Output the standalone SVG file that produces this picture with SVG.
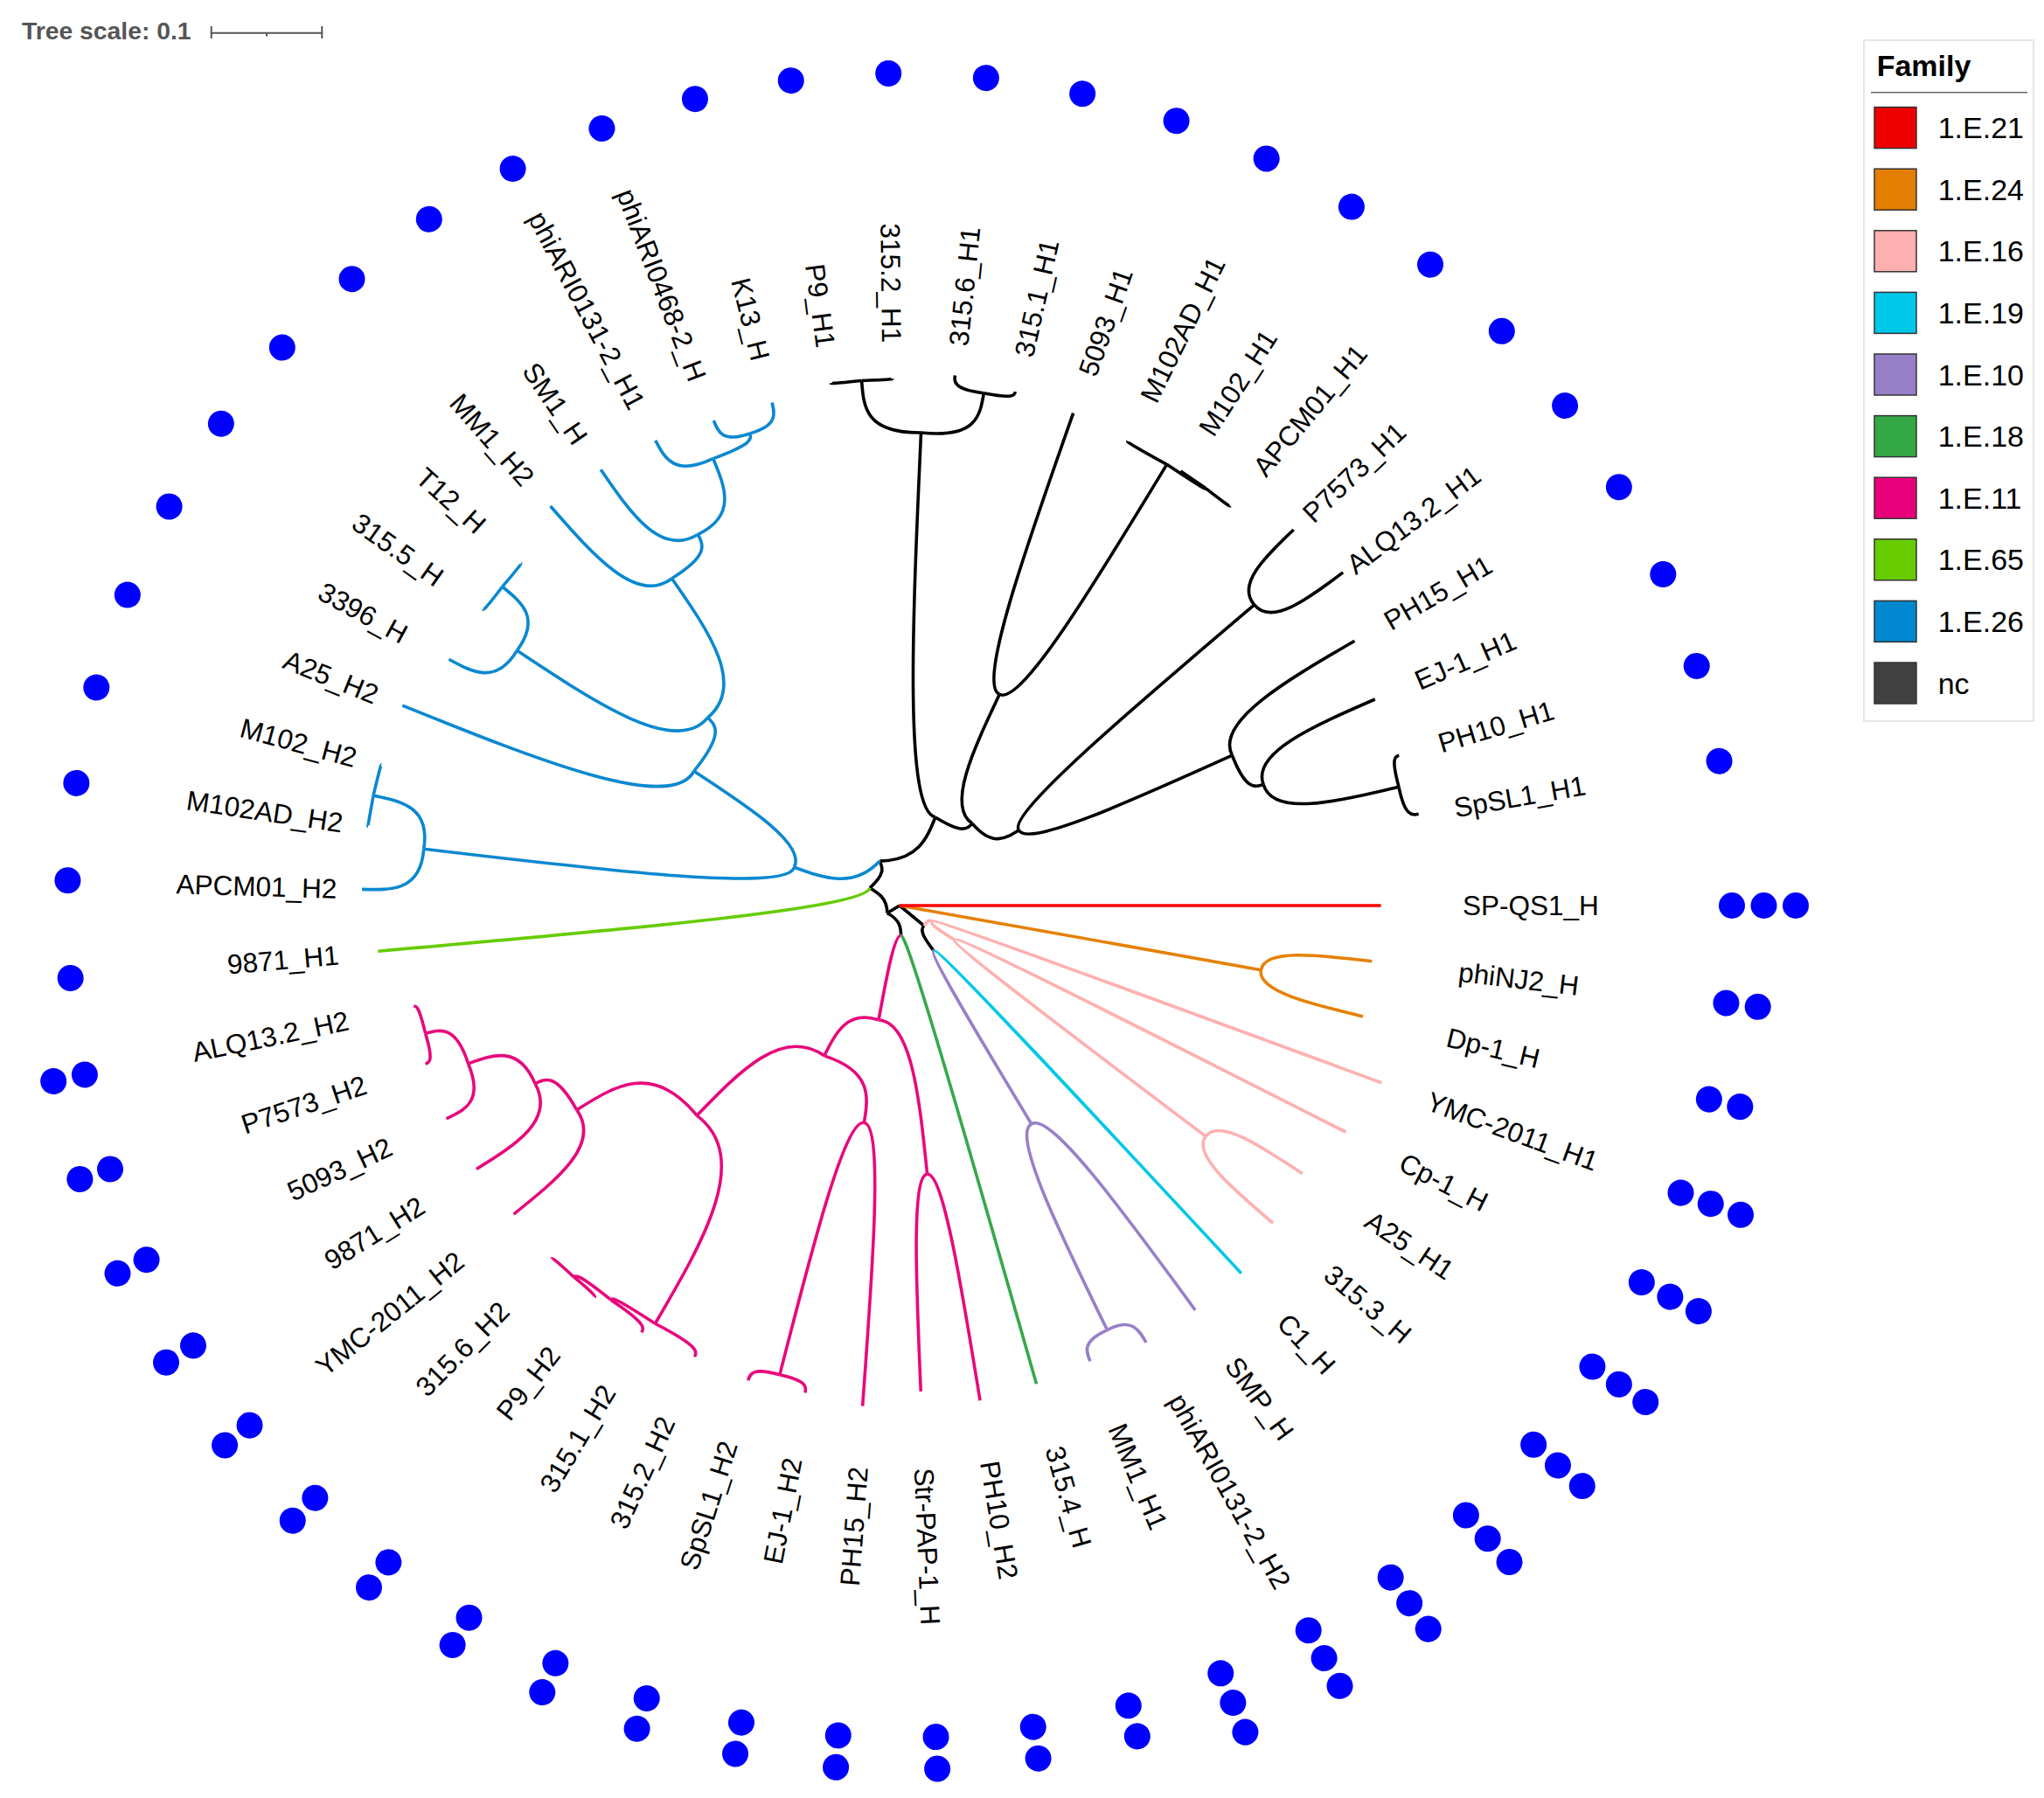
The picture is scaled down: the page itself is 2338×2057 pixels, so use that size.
<svg xmlns="http://www.w3.org/2000/svg" width="2338" height="2057" viewBox="0 0 2338 2057">
<style>
.e{fill:none;stroke-width:3.6;stroke-linejoin:round}
.k{stroke:#000}.b{stroke:#0a88d0}.l{stroke:#66cc00}.m{stroke:#e8087c}.g{stroke:#36a84a}.c{stroke:#00c8e6}.p{stroke:#9880c8}.pk{stroke:#ffb0b0}.o{stroke:#e68000}.r{stroke:#ff0000}
.t{font-family:"Liberation Sans",Arial,sans-serif;font-size:31.5px;fill:#000}
.d{fill:#0000ff}
.lg{font-family:"Liberation Sans",Arial,sans-serif;font-size:34px;fill:#000}
.sw{stroke:#333;stroke-width:1.5}
</style>
<rect width="2338" height="2057" fill="#fff"/>
<g id="tree-scale">
<text x="25" y="45" font-family="Liberation Sans, Arial, sans-serif" font-weight="bold" font-size="28.3" fill="#555">Tree scale: 0.1</text>
<g stroke="#555" stroke-width="2" fill="none">
<line x1="241.7" y1="37.7" x2="368.3" y2="37.7"/>
<line x1="241.7" y1="30" x2="241.7" y2="44"/>
<line x1="368.3" y1="30" x2="368.3" y2="44"/>
<line x1="305" y1="37.7" x2="305" y2="41.5"/>
</g>
</g>
<g id="legend">
<rect x="2132" y="46" width="194" height="779" fill="#fff" stroke="#e6e6e6" stroke-width="2"/>
<text x="2146.7" y="86.5" font-family="Liberation Sans, Arial, sans-serif" font-weight="bold" font-size="34">Family</text>
<line x1="2140" y1="105.8" x2="2319" y2="105.8" stroke="#666" stroke-width="1.5"/>
<rect class="sw" x="2144" y="122.6" width="48" height="47" fill="#ee0000"/><text class="lg" x="2216.7" y="158.1">1.E.21</text>
<rect class="sw" x="2144" y="193.2" width="48" height="47" fill="#e37e00"/><text class="lg" x="2216.7" y="228.7">1.E.24</text>
<rect class="sw" x="2144" y="263.8" width="48" height="47" fill="#ffb0b0"/><text class="lg" x="2216.7" y="299.3">1.E.16</text>
<rect class="sw" x="2144" y="334.4" width="48" height="47" fill="#00c8e8"/><text class="lg" x="2216.7" y="369.9">1.E.19</text>
<rect class="sw" x="2144" y="405" width="48" height="47" fill="#9880c8"/><text class="lg" x="2216.7" y="440.5">1.E.10</text>
<rect class="sw" x="2144" y="475.6" width="48" height="47" fill="#34a844"/><text class="lg" x="2216.7" y="511.1">1.E.18</text>
<rect class="sw" x="2144" y="546.2" width="48" height="47" fill="#e8007a"/><text class="lg" x="2216.7" y="581.7">1.E.11</text>
<rect class="sw" x="2144" y="616.8" width="48" height="47" fill="#66cc00"/><text class="lg" x="2216.7" y="652.3">1.E.65</text>
<rect class="sw" x="2144" y="687.4" width="48" height="47" fill="#0088d0"/><text class="lg" x="2216.7" y="722.9">1.E.26</text>
<rect class="sw" x="2144" y="758" width="48" height="47" fill="#404040"/><text class="lg" x="2216.7" y="793.5">nc</text>
</g>
<g transform="translate(1029,1036)">
<g id="connectors">
<path class="e k" transform="rotate(148.9)" d="M0 0L16.6 0"/>
<path class="e k" transform="rotate(39.54)" d="M0 0L36.2 0"/>
<path class="e k" transform="rotate(210.5)" d="M7.9 -14.6C16.6 0 28.1 0 39.6 0"/>
<path class="e k" transform="rotate(87.21)" d="M7.9 14.6C16.6 0 25.35 0 34.1 0"/>
<path class="e k" transform="rotate(246)" d="M32.2 -23C39.6 0 47.65 0 55.7 0"/>
<path class="e k" transform="rotate(292.05)" d="M38.7 -40.1C55.7 0 82.35 0 109 0"/>
<path class="e k" transform="rotate(53)" d="M35.2 -8.4C36.2 0 50.4 0 64.6 0"/>
<path class="e k" transform="rotate(272.596)" d="M102.8 36.3C109 0 325.3 0 541.6 0"/>
<path class="e k" transform="rotate(311.51)" d="M102.8 -36.3C109 0 117.2 0 125.4 0"/>
<path class="e k" transform="rotate(265.865)" d="M537.9 63.5C541.6 0 571.8 0 602 0"/>
<path class="e k" transform="rotate(279.327)" d="M537.9 -63.5C541.6 0 567.8 0 594 0"/>
<path class="e k" transform="rotate(262.5)" d="M601 35.3C602 0 602.5 0 602.9 0"/>
<path class="e k" transform="rotate(269.231)" d="M601 -35.3C602 0 602.4 0 602.8 0"/>
<path class="e k" transform="rotate(275.962)" d="M593 34.9C594 0 601.9 0 609.8 0"/>
<path class="e k" transform="rotate(282.692)" d="M593 -34.9C594 0 598.3 0 602.5 0"/>
<path class="e k" transform="rotate(295.31)" d="M120.4 35C125.4 0 196.4 0 267.4 0"/>
<path class="e k" transform="rotate(327.7)" d="M120.4 -35C125.4 0 143.4 0 161.4 0"/>
<path class="e k" transform="rotate(289.423)" d="M266 27.4C267.4 0 432.4 0 597.3 0"/>
<path class="e k" transform="rotate(301.2)" d="M266 -27.4C267.4 0 428.7 0 590 0"/>
<path class="e k" transform="rotate(296.154)" d="M587.7 51.9C590 0 591 0 592 0"/>
<path class="e k" transform="rotate(306.25)" d="M587.7 -51.9C590 0 591 0 592 0"/>
<path class="e k" transform="rotate(302.885)" d="M591 34.7C592 0 592 0 592 0"/>
<path class="e k" transform="rotate(309.615)" d="M591 -34.7C592 0 592.8 0 593.5 0"/>
<path class="e k" transform="rotate(319.71)" d="M159.8 22.4C161.4 0 346.7 0 532 0"/>
<path class="e k" transform="rotate(335.7)" d="M159.8 -22.4C161.4 0 289.4 0 417.4 0"/>
<path class="e k" transform="rotate(316.346)" d="M531.1 31.2C532 0 577.5 0 622.9 0"/>
<path class="e k" transform="rotate(323.077)" d="M531.1 -31.3C532 0 583.2 0 634.4 0"/>
<path class="e k" transform="rotate(329.808)" d="M415.2 42.8C417.4 0 509.8 0 602.1 0"/>
<path class="e k" transform="rotate(341.59)" d="M415.2 -42.8C417.4 0 428 0 438.6 0"/>
<path class="e k" transform="rotate(336.538)" d="M436.9 38.6C438.6 0 515.7 0 592.8 0"/>
<path class="e k" transform="rotate(346.63)" d="M436.9 -38.5C438.6 0 512.8 0 586.9 0"/>
<path class="e k" transform="rotate(343.269)" d="M585.9 34.4C586.9 0 591.7 0 596.5 0"/>
<path class="e k" transform="rotate(350)" d="M585.9 -34.5C586.9 0 594.9 0 602.8 0"/>
<path class="e b" transform="rotate(199.98)" d="M38.7 40.1C55.7 0 92 0 128.2 0"/>
<path class="e b" transform="rotate(186.78)" d="M124.8 29.3C128.2 0 338.2 0 548.1 0"/>
<path class="e b" transform="rotate(213.18)" d="M124.8 -29.3C128.2 0 204.6 0 281 0"/>
<path class="e b" transform="rotate(181.731)" d="M546 48.2C548.1 0 581.7 0 615.2 0"/>
<path class="e b" transform="rotate(191.83)" d="M546 -48.2C548.1 0 581.6 0 615 0"/>
<path class="e b" transform="rotate(188.462)" d="M613.9 36.1C615 0 614.9 0 614.7 0"/>
<path class="e b" transform="rotate(195.192)" d="M613.9 -36.1C615 0 614.6 0 614.2 0"/>
<path class="e b" transform="rotate(201.923)" d="M275.6 54.9C281 0 447 0 613 0"/>
<path class="e b" transform="rotate(224.43)" d="M275.6 -54.8C281 0 294.1 0 307.2 0"/>
<path class="e b" transform="rotate(213.7)" d="M301.8 57.2C307.2 0 416.6 0 525.9 0"/>
<path class="e b" transform="rotate(235.16)" d="M301.8 -57.2C307.2 0 381.7 0 456.1 0"/>
<path class="e b" transform="rotate(208.654)" d="M523.9 46.3C525.9 0 556.7 0 587.5 0"/>
<path class="e b" transform="rotate(218.75)" d="M523.9 -46.3C525.9 0 554.3 0 582.7 0"/>
<path class="e b" transform="rotate(215.385)" d="M581.7 34.2C582.7 0 583.9 0 585.1 0"/>
<path class="e b" transform="rotate(222.115)" d="M581.7 -34.2C582.7 0 583.3 0 583.9 0"/>
<path class="e b" transform="rotate(228.846)" d="M453.3 50.1C456.1 0 531.6 0 607 0"/>
<path class="e b" transform="rotate(241.47)" d="M453.3 -50.1C456.1 0 469.7 0 483.2 0"/>
<path class="e b" transform="rotate(235.577)" d="M480.6 49.6C483.2 0 543.9 0 604.6 0"/>
<path class="e b" transform="rotate(247.36)" d="M480.6 -49.6C483.2 0 518.6 0 554 0"/>
<path class="e b" transform="rotate(242.308)" d="M551.9 48.8C554 0 577.5 0 600.9 0"/>
<path class="e b" transform="rotate(252.4)" d="M551.9 -48.7C554 0 560.3 0 566.6 0"/>
<path class="e b" transform="rotate(249.038)" d="M565.6 33.2C566.6 0 580.5 0 594.3 0"/>
<path class="e b" transform="rotate(255.769)" d="M565.6 -33.3C566.6 0 580.2 0 593.7 0"/>
<path class="e l" transform="rotate(175)" d="M32.2 23C39.6 0 319.3 0 598.9 0"/>
<path class="e m" transform="rotate(100.38)" d="M33.2 -7.8C34.1 0 83.6 0 133.1 0"/>
<path class="e m" transform="rotate(116.63)" d="M127.8 -37.2C133.1 0 162.7 0 192.3 0"/>
<path class="e m" transform="rotate(84.13)" d="M127.8 37.2C133.1 0 221 0 309 0"/>
<path class="e m" transform="rotate(80.769)" d="M308.5 18.1C309 0 441.3 0 573.6 0"/>
<path class="e m" transform="rotate(87.5)" d="M308.5 -18.1C309 0 432.7 0 556.4 0"/>
<path class="e m" transform="rotate(99.28)" d="M183.5 57.3C192.3 0 222.1 0 251.9 0"/>
<path class="e m" transform="rotate(133.99)" d="M183.5 -57.3C192.3 0 263.1 0 333.9 0"/>
<path class="e m" transform="rotate(94.231)" d="M250.9 22.2C251.9 0 413 0 574.2 0"/>
<path class="e m" transform="rotate(104.33)" d="M250.9 -22.2C251.9 0 403 0 554.1 0"/>
<path class="e m" transform="rotate(100.962)" d="M553.1 32.5C554.1 0 560.9 0 567.7 0"/>
<path class="e m" transform="rotate(107.692)" d="M553.1 -32.5C554.1 0 562.2 0 570.3 0"/>
<path class="e m" transform="rotate(120.31)" d="M324.4 79C333.9 0 444 0 554 0"/>
<path class="e m" transform="rotate(147.66)" d="M324.4 -79C333.9 0 385.5 0 437 0"/>
<path class="e m" transform="rotate(114.423)" d="M551.1 56.9C554 0 560.5 0 567 0"/>
<path class="e m" transform="rotate(126.2)" d="M551.1 -56.9C554 0 556.6 0 559.1 0"/>
<path class="e m" transform="rotate(121.154)" d="M556.9 49.2C559.1 0 564.9 0 570.6 0"/>
<path class="e m" transform="rotate(131.25)" d="M556.9 -49.2C559.1 0 562.2 0 565.2 0"/>
<path class="e m" transform="rotate(127.885)" d="M564.2 33.2C565.2 0 566.6 0 568 0"/>
<path class="e m" transform="rotate(134.615)" d="M564.2 -33.2C565.2 0 566.3 0 567.3 0"/>
<path class="e m" transform="rotate(141.346)" d="M434.4 48C437 0 501.1 0 565.2 0"/>
<path class="e m" transform="rotate(153.97)" d="M434.4 -48C437 0 450.5 0 464 0"/>
<path class="e m" transform="rotate(148.077)" d="M461.6 47.6C464 0 517.2 0 570.3 0"/>
<path class="e m" transform="rotate(159.86)" d="M461.6 -47.6C464 0 494.8 0 525.5 0"/>
<path class="e m" transform="rotate(154.808)" d="M523.5 46.3C525.5 0 549.2 0 572.9 0"/>
<path class="e m" transform="rotate(164.9)" d="M523.5 -46.2C525.5 0 543.7 0 561.8 0"/>
<path class="e m" transform="rotate(161.538)" d="M560.8 32.9C561.8 0 566.9 0 571.9 0"/>
<path class="e m" transform="rotate(168.269)" d="M560.8 -33C561.8 0 564.7 0 567.6 0"/>
<path class="e g" transform="rotate(74.038)" d="M33.2 7.8C34.1 0 301.7 0 569.2 0"/>
<path class="e c" transform="rotate(47.115)" d="M64.3 6.6C64.6 0 319.5 0 574.3 0"/>
<path class="e p" transform="rotate(58.89)" d="M64.3 -6.6C64.6 0 178.3 0 291.9 0"/>
<path class="e p" transform="rotate(53.846)" d="M290.8 25.7C291.9 0 432.6 0 573.2 0"/>
<path class="e p" transform="rotate(63.94)" d="M290.8 -25.7C291.9 0 416.2 0 540.5 0"/>
<path class="e p" transform="rotate(60.577)" d="M539.6 31.7C540.5 0 557.2 0 573.9 0"/>
<path class="e p" transform="rotate(67.308)" d="M539.6 -31.7C540.5 0 552.8 0 565 0"/>
<path class="e pk" transform="rotate(26.08)" d="M35.2 8.4C36.2 0 38.6 0 41 0"/>
<path class="e pk" transform="rotate(20.192)" d="M40.8 4.2C41 0 314.2 0 587.4 0"/>
<path class="e pk" transform="rotate(31.97)" d="M40.8 -4.2C41 0 57.7 0 74.3 0"/>
<path class="e pk" transform="rotate(26.923)" d="M74 6.5C74.3 0 323.4 0 572.5 0"/>
<path class="e pk" transform="rotate(37.02)" d="M74 -6.5C74.3 0 256.5 0 438.7 0"/>
<path class="e pk" transform="rotate(33.654)" d="M437.9 25.8C438.7 0 496.2 0 553.7 0"/>
<path class="e pk" transform="rotate(40.385)" d="M437.9 -25.7C438.7 0 499.7 0 560.7 0"/>
<path class="e o" transform="rotate(10.1)" d="M0 0L420 0"/>
<path class="e o" transform="rotate(6.731)" d="M419.3 24.7C420 0 482 0 544 0"/>
<path class="e o" transform="rotate(13.462)" d="M419.3 -24.6C420 0 482.5 0 545 0"/>
<path class="e r" d="M0 0L550.6 0"/>
</g>
<g id="leaves">
<g id="n-SP-QS1_H" transform="rotate(0)"><text class="t" x="644" dy=".36em">SP-QS1_H</text><circle class="d" cx="952" r="15"/><circle class="d" cx="988.5" r="15"/><circle class="d" cx="1025" r="15"/></g>
<g id="n-phiNJ2_H" transform="rotate(6.7308)"><text class="t" x="644" dy=".36em">phiNJ2_H</text><circle class="d" cx="952" r="15"/><circle class="d" cx="988.5" r="15"/></g>
<g id="n-Dp-1_H" transform="rotate(13.4615)"><text class="t" x="644" dy=".36em">Dp-1_H</text><circle class="d" cx="952" r="15"/><circle class="d" cx="988.5" r="15"/></g>
<g id="n-YMC-2011_H1" transform="rotate(20.1923)"><text class="t" x="644" dy=".36em">YMC-2011_H1</text><circle class="d" cx="952" r="15"/><circle class="d" cx="988.5" r="15"/><circle class="d" cx="1025" r="15"/></g>
<g id="n-Cp-1_H" transform="rotate(26.9231)"><text class="t" x="644" dy=".36em">Cp-1_H</text><circle class="d" cx="952" r="15"/><circle class="d" cx="988.5" r="15"/><circle class="d" cx="1025" r="15"/></g>
<g id="n-A25_H1" transform="rotate(33.6538)"><text class="t" x="644" dy=".36em">A25_H1</text><circle class="d" cx="952" r="15"/><circle class="d" cx="988.5" r="15"/><circle class="d" cx="1025" r="15"/></g>
<g id="n-315.3_H" transform="rotate(40.3846)"><text class="t" x="644" dy=".36em">315.3_H</text><circle class="d" cx="952" r="15"/><circle class="d" cx="988.5" r="15"/><circle class="d" cx="1025" r="15"/></g>
<g id="n-C1_H" transform="rotate(47.1154)"><text class="t" x="644" dy=".36em">C1_H</text><circle class="d" cx="952" r="15"/><circle class="d" cx="988.5" r="15"/><circle class="d" cx="1025" r="15"/></g>
<g id="n-SMP_H" transform="rotate(53.8462)"><text class="t" x="644" dy=".36em">SMP_H</text><circle class="d" cx="952" r="15"/><circle class="d" cx="988.5" r="15"/><circle class="d" cx="1025" r="15"/></g>
<g id="n-phiARI0131-2_H2" transform="rotate(60.5769)"><text class="t" x="644" dy=".36em">phiARI0131-2_H2</text><circle class="d" cx="952" r="15"/><circle class="d" cx="988.5" r="15"/><circle class="d" cx="1025" r="15"/></g>
<g id="n-MM1_H1" transform="rotate(67.3077)"><text class="t" x="644" dy=".36em">MM1_H1</text><circle class="d" cx="952" r="15"/><circle class="d" cx="988.5" r="15"/><circle class="d" cx="1025" r="15"/></g>
<g id="n-315.4_H" transform="rotate(74.0385)"><text class="t" x="644" dy=".36em">315.4_H</text><circle class="d" cx="952" r="15"/><circle class="d" cx="988.5" r="15"/></g>
<g id="n-PH10_H2" transform="rotate(80.7692)"><text class="t" x="644" dy=".36em">PH10_H2</text><circle class="d" cx="952" r="15"/><circle class="d" cx="988.5" r="15"/></g>
<g id="n-Str-PAP-1_H" transform="rotate(87.5)"><text class="t" x="644" dy=".36em">Str-PAP-1_H</text><circle class="d" cx="952" r="15"/><circle class="d" cx="988.5" r="15"/></g>
<g id="n-PH15_H2" transform="rotate(94.2308)"><text class="t" transform="rotate(180)" x="-644" dy=".36em" text-anchor="end">PH15_H2</text><circle class="d" cx="952" r="15"/><circle class="d" cx="988.5" r="15"/></g>
<g id="n-EJ-1_H2" transform="rotate(100.9615)"><text class="t" transform="rotate(180)" x="-644" dy=".36em" text-anchor="end">EJ-1_H2</text><circle class="d" cx="952" r="15"/><circle class="d" cx="988.5" r="15"/></g>
<g id="n-SpSL1_H2" transform="rotate(107.6923)"><text class="t" transform="rotate(180)" x="-644" dy=".36em" text-anchor="end">SpSL1_H2</text><circle class="d" cx="952" r="15"/><circle class="d" cx="988.5" r="15"/></g>
<g id="n-315.2_H2" transform="rotate(114.4231)"><text class="t" transform="rotate(180)" x="-644" dy=".36em" text-anchor="end">315.2_H2</text><circle class="d" cx="952" r="15"/><circle class="d" cx="988.5" r="15"/></g>
<g id="n-315.1_H2" transform="rotate(121.1538)"><text class="t" transform="rotate(180)" x="-644" dy=".36em" text-anchor="end">315.1_H2</text><circle class="d" cx="952" r="15"/><circle class="d" cx="988.5" r="15"/></g>
<g id="n-P9_H2" transform="rotate(127.8846)"><text class="t" transform="rotate(180)" x="-644" dy=".36em" text-anchor="end">P9_H2</text><circle class="d" cx="952" r="15"/><circle class="d" cx="988.5" r="15"/></g>
<g id="n-315.6_H2" transform="rotate(134.6154)"><text class="t" transform="rotate(180)" x="-644" dy=".36em" text-anchor="end">315.6_H2</text><circle class="d" cx="952" r="15"/><circle class="d" cx="988.5" r="15"/></g>
<g id="n-YMC-2011_H2" transform="rotate(141.3462)"><text class="t" transform="rotate(180)" x="-644" dy=".36em" text-anchor="end">YMC-2011_H2</text><circle class="d" cx="952" r="15"/><circle class="d" cx="988.5" r="15"/></g>
<g id="n-9871_H2" transform="rotate(148.0769)"><text class="t" transform="rotate(180)" x="-644" dy=".36em" text-anchor="end">9871_H2</text><circle class="d" cx="952" r="15"/><circle class="d" cx="988.5" r="15"/></g>
<g id="n-5093_H2" transform="rotate(154.8077)"><text class="t" transform="rotate(180)" x="-644" dy=".36em" text-anchor="end">5093_H2</text><circle class="d" cx="952" r="15"/><circle class="d" cx="988.5" r="15"/></g>
<g id="n-P7573_H2" transform="rotate(161.5385)"><text class="t" transform="rotate(180)" x="-644" dy=".36em" text-anchor="end">P7573_H2</text><circle class="d" cx="952" r="15"/><circle class="d" cx="988.5" r="15"/></g>
<g id="n-ALQ13.2_H2" transform="rotate(168.2692)"><text class="t" transform="rotate(180)" x="-644" dy=".36em" text-anchor="end">ALQ13.2_H2</text><circle class="d" cx="952" r="15"/><circle class="d" cx="988.5" r="15"/></g>
<g id="n-9871_H1" transform="rotate(175)"><text class="t" transform="rotate(180)" x="-644" dy=".36em" text-anchor="end">9871_H1</text><circle class="d" cx="952" r="15"/></g>
<g id="n-APCM01_H2" transform="rotate(181.7308)"><text class="t" transform="rotate(180)" x="-644" dy=".36em" text-anchor="end">APCM01_H2</text><circle class="d" cx="952" r="15"/></g>
<g id="n-M102AD_H2" transform="rotate(188.4615)"><text class="t" transform="rotate(180)" x="-644" dy=".36em" text-anchor="end">M102AD_H2</text><circle class="d" cx="952" r="15"/></g>
<g id="n-M102_H2" transform="rotate(195.1923)"><text class="t" transform="rotate(180)" x="-644" dy=".36em" text-anchor="end">M102_H2</text><circle class="d" cx="952" r="15"/></g>
<g id="n-A25_H2" transform="rotate(201.9231)"><text class="t" transform="rotate(180)" x="-644" dy=".36em" text-anchor="end">A25_H2</text><circle class="d" cx="952" r="15"/></g>
<g id="n-3396_H" transform="rotate(208.6538)"><text class="t" transform="rotate(180)" x="-644" dy=".36em" text-anchor="end">3396_H</text><circle class="d" cx="952" r="15"/></g>
<g id="n-315.5_H" transform="rotate(215.3846)"><text class="t" transform="rotate(180)" x="-644" dy=".36em" text-anchor="end">315.5_H</text><circle class="d" cx="952" r="15"/></g>
<g id="n-T12_H" transform="rotate(222.1154)"><text class="t" transform="rotate(180)" x="-644" dy=".36em" text-anchor="end">T12_H</text><circle class="d" cx="952" r="15"/></g>
<g id="n-MM1_H2" transform="rotate(228.8462)"><text class="t" transform="rotate(180)" x="-644" dy=".36em" text-anchor="end">MM1_H2</text><circle class="d" cx="952" r="15"/></g>
<g id="n-SM1_H" transform="rotate(235.5769)"><text class="t" transform="rotate(180)" x="-644" dy=".36em" text-anchor="end">SM1_H</text><circle class="d" cx="952" r="15"/></g>
<g id="n-phiARI0131-2_H1" transform="rotate(242.3077)"><text class="t" transform="rotate(180)" x="-644" dy=".36em" text-anchor="end">phiARI0131-2_H1</text><circle class="d" cx="952" r="15"/></g>
<g id="n-phiARI0468-2_H" transform="rotate(249.0385)"><text class="t" transform="rotate(180)" x="-644" dy=".36em" text-anchor="end">phiARI0468-2_H</text><circle class="d" cx="952" r="15"/></g>
<g id="n-K13_H" transform="rotate(255.7692)"><text class="t" transform="rotate(180)" x="-644" dy=".36em" text-anchor="end">K13_H</text><circle class="d" cx="952" r="15"/></g>
<g id="n-P9_H1" transform="rotate(262.5)"><text class="t" transform="rotate(180)" x="-644" dy=".36em" text-anchor="end">P9_H1</text><circle class="d" cx="952" r="15"/></g>
<g id="n-315.2_H1" transform="rotate(269.2308)"><text class="t" transform="rotate(180)" x="-644" dy=".36em" text-anchor="end">315.2_H1</text><circle class="d" cx="952" r="15"/></g>
<g id="n-315.6_H1" transform="rotate(275.9615)"><text class="t" x="644" dy=".36em">315.6_H1</text><circle class="d" cx="952" r="15"/></g>
<g id="n-315.1_H1" transform="rotate(282.6923)"><text class="t" x="644" dy=".36em">315.1_H1</text><circle class="d" cx="952" r="15"/></g>
<g id="n-5093_H1" transform="rotate(289.4231)"><text class="t" x="644" dy=".36em">5093_H1</text><circle class="d" cx="952" r="15"/></g>
<g id="n-M102AD_H1" transform="rotate(296.1538)"><text class="t" x="644" dy=".36em">M102AD_H1</text><circle class="d" cx="952" r="15"/></g>
<g id="n-M102_H1" transform="rotate(302.8846)"><text class="t" x="644" dy=".36em">M102_H1</text><circle class="d" cx="952" r="15"/></g>
<g id="n-APCM01_H1" transform="rotate(309.6154)"><text class="t" x="644" dy=".36em">APCM01_H1</text><circle class="d" cx="952" r="15"/></g>
<g id="n-P7573_H1" transform="rotate(316.3462)"><text class="t" x="644" dy=".36em">P7573_H1</text><circle class="d" cx="952" r="15"/></g>
<g id="n-ALQ13.2_H1" transform="rotate(323.0769)"><text class="t" x="644" dy=".36em">ALQ13.2_H1</text><circle class="d" cx="952" r="15"/></g>
<g id="n-PH15_H1" transform="rotate(329.8077)"><text class="t" x="644" dy=".36em">PH15_H1</text><circle class="d" cx="952" r="15"/></g>
<g id="n-EJ-1_H1" transform="rotate(336.5385)"><text class="t" x="644" dy=".36em">EJ-1_H1</text><circle class="d" cx="952" r="15"/></g>
<g id="n-PH10_H1" transform="rotate(343.2692)"><text class="t" x="644" dy=".36em">PH10_H1</text><circle class="d" cx="952" r="15"/></g>
<g id="n-SpSL1_H1" transform="rotate(350)"><text class="t" x="644" dy=".36em">SpSL1_H1</text><circle class="d" cx="952" r="15"/></g>
</g>
</g>
</svg>
